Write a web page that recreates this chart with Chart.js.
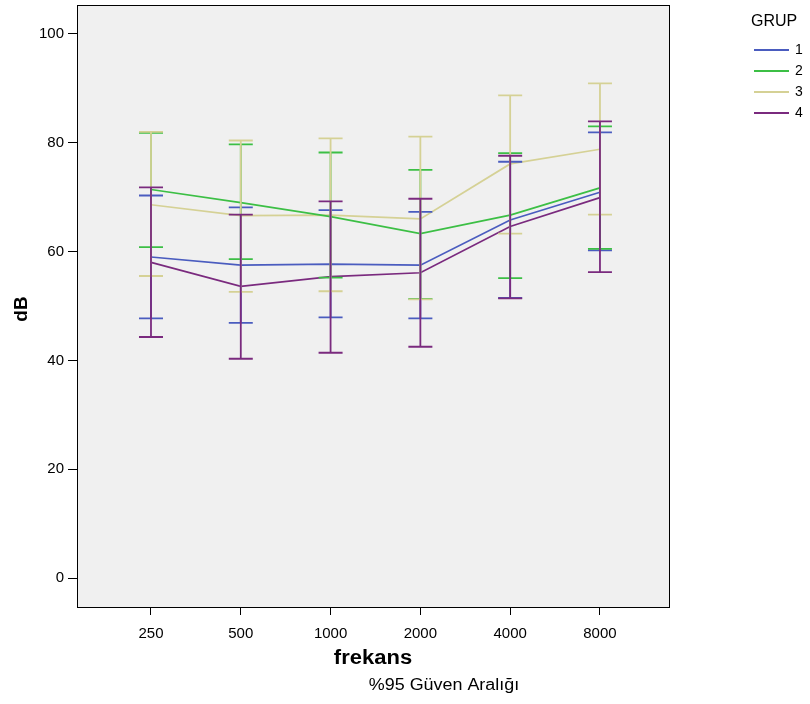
<!DOCTYPE html>
<html>
<head>
<meta charset="utf-8">
<script src="https://cdn.jsdelivr.net/npm/chart.js@4/dist/chart.umd.min.js"></script>
<style>
  html, body { margin:0; padding:0; background:#fff; }
  #wrap { width:810px; height:704px; position:relative; }
</style>
</head>
<body>
<div id="wrap"><canvas id="chart"></canvas></div>
<script>
const freqs = ['250','500','1000','2000','4000','8000'];
const groups = ['1','2','3','4'];
const colors = ['#4a5cbf','#3cbf45','#d5d195','#7a2a7e'];

// means per group
const mean1 = [59.0, 57.5, 57.7, 57.5, 65.8, 70.9];
const mean2 = [71.4, 69.0, 66.4, 63.3, 66.7, 71.7];
const mean3 = [68.6, 66.6, 66.7, 66.0, 76.1, 78.8];
const mean4 = [58.0, 53.6, 55.4, 56.1, 64.6, 69.9];

// 95% CI lower bounds
const low1 = [47.7, 46.9, 47.9, 47.7, 51.5, 60.2];
const low2 = [60.8, 58.6, 55.2, 51.3, 55.1, 60.5];
const low3 = [55.5, 52.6, 52.7, 51.2, 63.3, 66.8];
const low4 = [44.3, 40.3, 41.4, 42.5, 51.4, 56.2];

// 95% CI upper bounds
const up1 = [70.3, 68.1, 67.6, 67.3, 76.5, 81.9];
const up2 = [81.8, 79.7, 78.2, 75.0, 78.1, 83.0];
const up3 = [82.0, 80.4, 80.8, 81.1, 88.7, 90.9];
const up4 = [71.8, 66.8, 69.2, 69.7, 77.6, 83.9];

const yTicks = [0, 20, 40, 60, 80, 100];

const means = [mean1, mean2, mean3, mean4];
const lows = [low1, low2, low3, low4];
const ups = [up1, up2, up3, up4];

const FONT = '"Liberation Sans", Arial, sans-serif';

const bgPlugin = {
  id: 'bg',
  beforeDraw(c){
    const {ctx, chartArea:a} = c;
    ctx.save();
    ctx.fillStyle = '#f0f0f0';
    ctx.fillRect(a.left, a.top, a.right-a.left, a.bottom-a.top);
    ctx.restore();
  }
};

const errPlugin = {
  id: 'err',
  afterDatasetsDraw(c){
    const {ctx} = c;
    const xs = c.scales.x, ys = c.scales.y;
    ctx.save();
    ctx.lineWidth = 1.8;
    for(let g=0; g<groups.length; g++){
      ctx.strokeStyle = colors[g];
      for(let i=0; i<freqs.length; i++){
        const x = xs.getPixelForValue(i);
        const y1 = ys.getPixelForValue(lows[g][i]);
        const y2 = ys.getPixelForValue(ups[g][i]);
        ctx.beginPath();
        ctx.moveTo(x, y1); ctx.lineTo(x, y2);
        ctx.moveTo(x-12, y1); ctx.lineTo(x+12, y1);
        ctx.moveTo(x-12, y2); ctx.lineTo(x+12, y2);
        ctx.stroke();
      }
    }
    ctx.restore();
  }
};

// text stretched a little horizontally, like the original export
function wideText(ctx, txt, x, y, sx){
  ctx.save();
  ctx.translate(x, y);
  ctx.scale(sx, 1);
  ctx.fillText(txt, 0, 0);
  ctx.restore();
}

const textPlugin = {
  id: 'texts',
  afterDraw(c){
    const {ctx, chartArea:a} = c;
    ctx.save();
    ctx.strokeStyle = '#000';
    ctx.lineWidth = 1;
    ctx.strokeRect(a.left+0.5, a.top+0.5, a.right-a.left-1, a.bottom-a.top-1);

    ctx.fillStyle = '#000';
    ctx.textAlign = 'center';
    ctx.textBaseline = 'middle';
    ctx.font = `bold 20px ${FONT}`;
    wideText(ctx, 'frekans', 373, 658, 1.1);
    ctx.font = `16px ${FONT}`;
    wideText(ctx, '%95 Güven Aralığı', 444, 686, 1.12);

    ctx.save();
    ctx.translate(22, 309);
    ctx.rotate(-Math.PI/2);
    ctx.font = `bold 19px ${FONT}`;
    ctx.fillText('dB', 0, 0);
    ctx.restore();

    // legend
    ctx.textAlign = 'left';
    ctx.font = `16px ${FONT}`;
    ctx.fillText('GRUP', 751, 22);
    ctx.font = `14px ${FONT}`;
    c.data.datasets.forEach((ds, k) => {
      const y = 50 + k*21;
      ctx.strokeStyle = ds.borderColor;
      ctx.lineWidth = 2;
      ctx.beginPath(); ctx.moveTo(754, y); ctx.lineTo(789, y); ctx.stroke();
      ctx.fillStyle = '#000';
      ctx.fillText(ds.label, 795, y);
    });
    ctx.restore();
  }
};

new Chart(document.getElementById('chart'), {
  type: 'line',
  data: {
    datasets: groups.map((g, k) => ({
      label: g,
      data: means[k].map((v, i) => ({x: i, y: v})),
      borderColor: colors[k],
      backgroundColor: colors[k],
      borderWidth: 1.7,
      pointRadius: 0,
      tension: 0,
    }))
  },
  options: {
    responsive: true,
    maintainAspectRatio: false,
    animation: false,
    layout: { padding: { top: 5, right: 140, left: 0, bottom: 0 } },
    plugins: { legend: { display: false }, tooltip: { enabled: false } },
    scales: {
      x: {
        type: 'linear',
        min: -0.824,
        max: 5.78,
        afterFit(s){ s.height = 96; s.paddingLeft = 0; s.paddingRight = 0; },
        afterBuildTicks(s){ s.ticks = freqs.map((f, i) => ({value: i})); },
        ticks: {
          includeBounds: false,
          color: '#000',
          font: { family: FONT, size: 15 },
          padding: 10,
          maxRotation: 0,
          callback: (v) => freqs[v],
        },
        grid: { drawOnChartArea: false, drawTicks: true, tickLength: 7, color: '#000' },
        border: { display: false },
      },
      y: {
        min: -5.5,
        max: 105.3,
        afterFit(s){ s.width = 77; s.paddingTop = 0; s.paddingBottom = 0; },
        afterBuildTicks(s){ s.ticks = yTicks.map(v => ({value: v})); },
        ticks: {
          includeBounds: false,
          color: '#000',
          font: { family: FONT, size: 15 },
          padding: 4,
        },
        grid: { drawOnChartArea: false, drawTicks: true, tickLength: 9, color: '#000' },
        border: { display: false },
      }
    }
  },
  plugins: [bgPlugin, errPlugin, textPlugin]
});
</script>
</body>
</html>
